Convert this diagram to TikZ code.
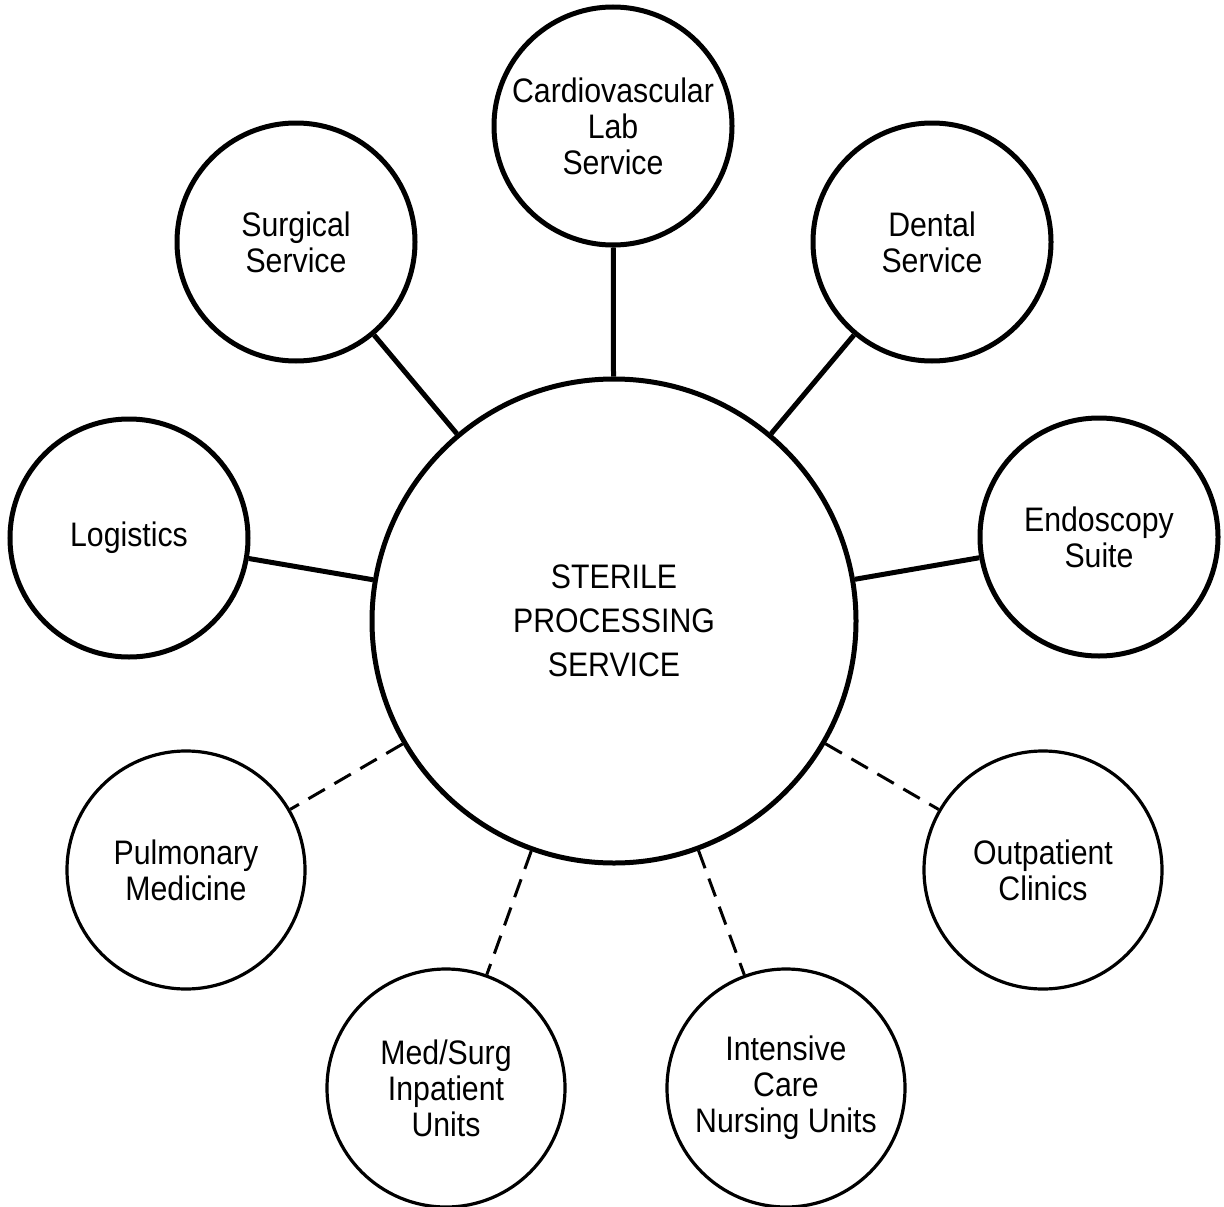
\documentclass[tikz,border=0pt]{standalone}
\usepackage{fontspec}
\setmainfont{Liberation Sans}[FakeStretch=0.89]
\begin{document}
\begin{tikzpicture}[x=1pt,y=-1pt,
  hub/.style={circle,draw,line width=5pt,minimum size=484pt,inner sep=0pt,align=center,
    font=\fontsize{34}{44}\selectfont},
  upper/.style={circle,draw,line width=5pt,minimum size=238pt,inner sep=0pt,align=center,
    font=\fontsize{34}{36}\selectfont},
  lower/.style={circle,draw,line width=3.2pt,minimum size=238pt,inner sep=0pt,align=center,
    font=\fontsize{34}{36}\selectfont},
  solidlink/.style={line width=5pt},
  dashlink/.style={line width=3pt,dash pattern=on 19pt off 11pt}]
\useasboundingbox (0,0) rectangle (1224,1207);
\node[hub] (sps) at (614,621) {STERILE\\PROCESSING\\SERVICE};
\node[upper] (cardio) at (613,126) {Cardiovascular\\Lab\\Service};
\node[upper] (surg) at (296,242) {Surgical\\Service};
\node[upper] (dent) at (932,242) {Dental\\Service};
\node[upper] (log) at (129,538) {Logistics};
\node[upper] (endo) at (1099,537) {Endoscopy\\Suite};
\node[lower] (pulm) at (186,870) {Pulmonary\\Medicine};
\node[lower] (outp) at (1043,870) {Outpatient\\Clinics};
\node[lower] (med) at (446,1088) {Med/Surg\\Inpatient\\Units};
\node[lower] (icu) at (786,1088) {Intensive\\Care\\Nursing Units};
\draw[solidlink] (sps) -- (cardio);
\draw[solidlink] (sps) -- (surg);
\draw[solidlink] (sps) -- (dent);
\draw[solidlink] (sps) -- (log);
\draw[solidlink] (sps) -- (endo);
\draw[dashlink] (sps) -- (pulm);
\draw[dashlink] (sps) -- (outp);
\draw[dashlink] (sps) -- (med);
\draw[dashlink] (sps) -- (icu);
\end{tikzpicture}
\end{document}
